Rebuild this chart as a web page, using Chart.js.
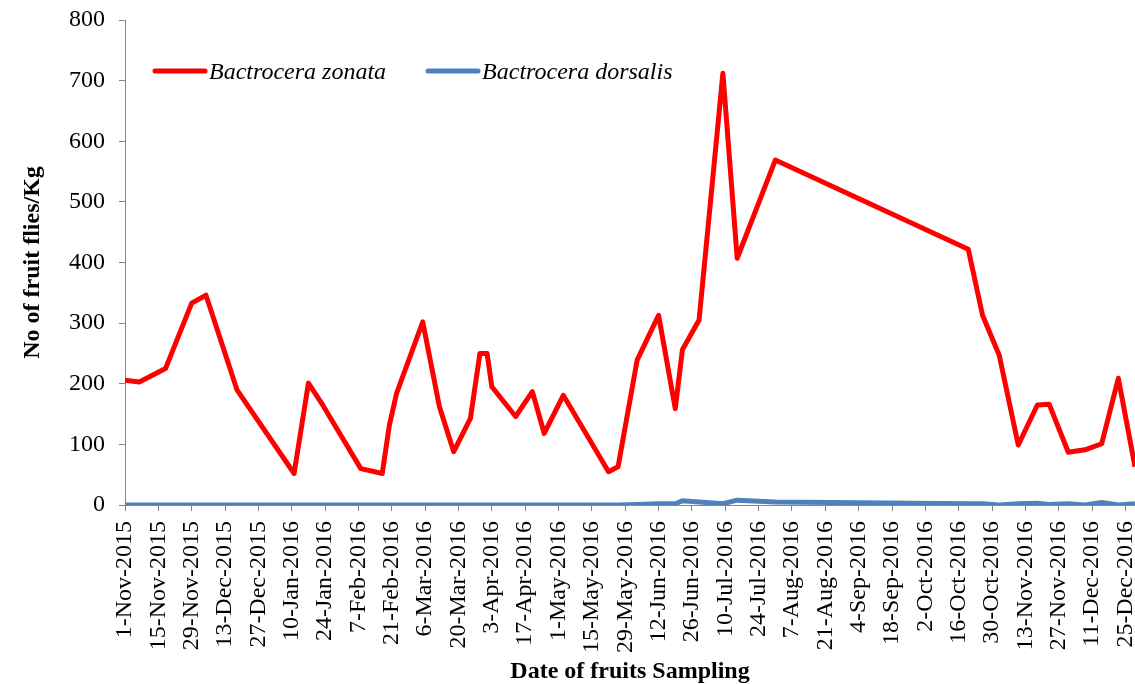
<!DOCTYPE html>
<html>
<head>
<meta charset="utf-8">
<script src="https://cdn.jsdelivr.net/npm/chart.js@4"></script>
<style>
  html, body { margin: 0; padding: 0; background: #fff; }
</style>
</head>
<body>
<canvas id="chart" width="1135" height="684"></canvas>
<script>
// sampling dates
const sampleDates = [
  '2015-11-01', '2015-11-07', '2015-11-18', '2015-11-29', '2015-12-05', '2015-12-18',
  '2016-01-11', '2016-01-17', '2016-01-23', '2016-01-28', '2016-02-08', '2016-02-17',
  '2016-02-20', '2016-02-23', '2016-03-05', '2016-03-12', '2016-03-18', '2016-03-25',
  '2016-03-29', '2016-04-01', '2016-04-03', '2016-04-13', '2016-04-20', '2016-04-25',
  '2016-05-03', '2016-05-22', '2016-05-26', '2016-06-03', '2016-06-12', '2016-06-19',
  '2016-06-22', '2016-06-29', '2016-07-09', '2016-07-15', '2016-07-31', '2016-10-20',
  '2016-10-26', '2016-11-02', '2016-11-10', '2016-11-18', '2016-11-23', '2016-12-01',
  '2016-12-08', '2016-12-15', '2016-12-22', '2016-12-29'
];

const zonata = [
  206, 203, 225, 333, 346, 190,
  52, 201, 165, 132, 60, 52,
  132, 184, 302, 162, 88, 143,
  250, 250, 195, 146, 187, 118,
  181, 55, 63, 239, 313, 159,
  256, 305, 712, 407, 569, 422,
  313, 247, 99, 165, 166, 87,
  91, 101, 209, 63
];

const dorsalis = [
  0, 0, 0, 0, 0, 0,
  0, 0, 0, 0, 0, 0,
  0, 0, 0, 0, 0, 0,
  0, 0, 0, 0, 0, 0,
  0, 0, 0, 1, 2, 2,
  7, 5, 2, 8, 5, 2,
  2, 0, 2, 3, 1, 2,
  0, 4, 0, 2
];

const seriesNames = ['Bactrocera zonata', 'Bactrocera dorsalis'];
const MONTHS = ['Jan', 'Feb', 'Mar', 'Apr', 'May', 'Jun', 'Jul', 'Aug', 'Sep', 'Oct', 'Nov', 'Dec'];

const START = Date.UTC(2015, 10, 1);
const DAY = 86400000;

function dayOf(s) {
  const [y, m, d] = s.split('-').map(Number);
  return (Date.UTC(y, m - 1, d) - START) / DAY;
}

function dayLabel(n) {
  const d = new Date(START + n * DAY);
  return d.getUTCDate() + '-' + MONTHS[d.getUTCMonth()] + '-' + d.getUTCFullYear();
}

const FONT = "'Liberation Serif', 'Times New Roman', serif";
Chart.defaults.color = '#000';
Chart.defaults.font.family = FONT;

const points = vals => vals.map((v, i) => ({ x: dayOf(sampleDates[i]), y: v }));

// one-row legend sitting inside the plot, like the Excel original
const insideLegend = {
  id: 'insideLegend',
  afterDatasetsDraw(chart) {
    const ctx = chart.ctx;
    const area = chart.chartArea;
    let x = area.left + 30;
    const y = area.top + 51;
    ctx.save();
    ctx.font = 'italic 24px ' + FONT;
    ctx.textBaseline = 'middle';
    chart.data.datasets.forEach(ds => {
      ctx.strokeStyle = ds.borderColor;
      ctx.lineWidth = 5;
      ctx.lineCap = 'round';
      ctx.beginPath();
      ctx.moveTo(x, y);
      ctx.lineTo(x + 50, y);
      ctx.stroke();
      ctx.fillStyle = '#000';
      ctx.fillText(ds.label, x + 54, y + 2);
      x += 54 + ctx.measureText(ds.label).width + 42;
    });
    ctx.restore();
  },
};

const axisGrid = {
  display: true,
  drawOnChartArea: false,
  drawTicks: true,
  tickLength: 6,
  color: '#868686',
};

new Chart(document.getElementById('chart'), {
  type: 'line',
  data: {
    datasets: [
      {
        label: seriesNames[0],
        data: points(zonata),
        borderColor: '#ff0000',
        backgroundColor: '#ff0000',
        borderWidth: 5,
        borderJoinStyle: 'round',
        pointRadius: 0,
        tension: 0,
      },
      {
        label: seriesNames[1],
        data: points(dorsalis),
        borderColor: '#4f81bd',
        backgroundColor: '#4f81bd',
        borderWidth: 5,
        borderJoinStyle: 'round',
        pointRadius: 0,
        tension: 0,
      },
    ],
  },
  plugins: [insideLegend],
  options: {
    responsive: false,
    animation: false,
    layout: { padding: { top: 0, right: 0, left: 0, bottom: 0 } },
    plugins: {
      tooltip: { enabled: false },
      legend: { display: false },
    },
    scales: {
      x: {
        type: 'linear',
        min: 0,
        max: 424,
        grid: axisGrid,
        border: { color: '#868686', width: 1 },
        ticks: {
          stepSize: 14,
          includeBounds: false,
          autoSkip: false,
          minRotation: 90,
          maxRotation: 90,
          padding: 10,
          font: { size: 24 },
          callback: v => dayLabel(v),
        },
        title: {
          display: true,
          text: 'Date of fruits Sampling',
          font: { size: 24, weight: 'bold' },
          padding: { top: 0, bottom: -2 },
        },
        afterFit: s => {
          s.height = 179;
          s.paddingLeft = 0; s.paddingRight = 0;
          s.paddingTop = 0; s.paddingBottom = 0;
        },
      },
      y: {
        min: 0,
        max: 800,
        grid: axisGrid,
        border: { color: '#868686', width: 1 },
        ticks: {
          stepSize: 100,
          padding: 14,
          font: { size: 24 },
        },
        title: {
          display: true,
          text: 'No of fruit flies/Kg',
          font: { size: 24, weight: 'bold' },
          padding: { top: 18, bottom: 0 },
        },
        afterFit: s => {
          s.width = 125;
          s.paddingTop = 20; s.paddingBottom = 0;
        },
      },
    },
  },
});
</script>
</body>
</html>
